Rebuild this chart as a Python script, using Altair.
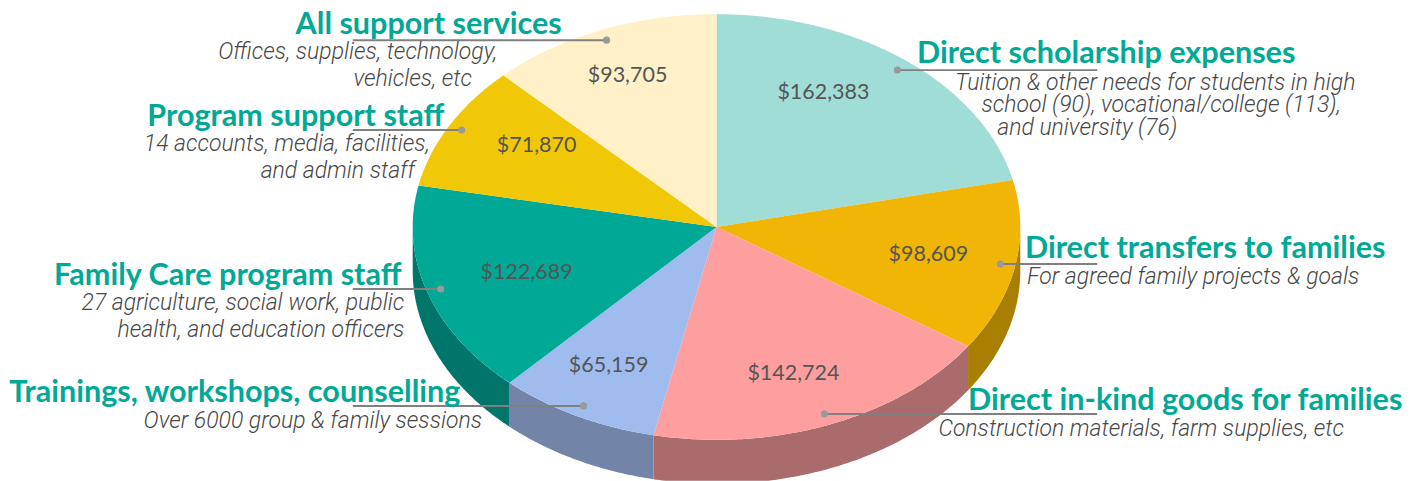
import math
import altair as alt
import pandas as pd

names = ["Direct scholarship expenses", "Direct transfers to families", "Direct in-kind goods for families",
         "Trainings, workshops, counselling", "Family Care program staff", "Program support staff", "All support services"]
values = [162383, 98609, 142724, 65159, 122689, 71870, 93705]
top_colors = ["#9FDDD6", "#F0B505", "#FF9E9E", "#A0BCEE", "#00A896", "#F0C808", "#FFF0C8"]
wall_colors = ["#6F9B96", "#A87F03", "#A96B6B", "#7285A8", "#00756A", "#A88C06", "#B3A88C"]

# layout of the picture, in page pixels
W, H = 1397, 473
CX, CY, RX, RY, DEPTH = 716, 227, 304, 213, 44
HEAD_SIZE, SUB_SIZE, VAL_SIZE = 30.6, 23, 21.5

def ux(px): return (px - CX) / RX
def uy(py): return (CY - py) / RY

# heading text, centre x, centre y
headings = [
    ("All support services", 428, 25), ("Program support staff", 295, 117),
    ("Family Care program staff", 227, 276), ("Trainings, workshops, counselling", 234, 393),
    ("Direct in-kind goods for families", 1185, 401), ("Direct transfers to families", 1205, 249),
    ("Direct scholarship expenses", 1106, 54),
]
subs = [
    ("Offices, supplies, technology,", 357, 52), ("vehicles, etc", 412, 79),
    ("14 accounts, media, facilities,", 286, 144), ("and admin staff", 337, 171),
    ("27 agriculture, social work, public", 242, 303), ("health, and education officers", 260, 330),
    ("Over 6000 group & family sessions", 312, 421),
    ("Construction materials, farm supplies, etc", 1141, 429),
    ("For agreed family projects & goals", 1193, 277),
    ("Tuition & other needs for students in high", 1155, 83),
    ("school (90), vocational/college (113),", 1161, 105),
    ("and university (76)", 1087, 128),
]
value_pos = [(823, 93), (928, 255), (793, 374), (608, 366), (526, 273), (536, 146), (627, 76)]
# dot x, dot y, line end x
leaders = [(897, 70, 1097), (1000, 264, 1097), (824, 414, 1097), (583, 406, 352),
           (440, 289, 352), (461, 130, 352), (606, 40, 352)]

total = sum(values)
wedges, walls = [], []
acc = 0
for i, v in enumerate(values):
    a0 = acc / total * 2 * math.pi
    acc += v
    a1 = acc / total * 2 * math.pi
    n = max(2, int((a1 - a0) / 0.01))
    pts = [a0 + (a1 - a0) * k / n for k in range(n + 1)]
    wedges.append({"name": names[i], "o": 0, "u": 0.0, "v": 0.0})
    for k, a in enumerate(pts):
        wedges.append({"name": names[i], "o": k + 1, "u": math.sin(a), "v": math.cos(a)})
    wedges.append({"name": names[i], "o": n + 2, "u": 0.0, "v": 0.0})
    lo, hi = max(a0, math.pi / 2), min(a1, 3 * math.pi / 2)
    if hi > lo:
        m = max(2, int((hi - lo) / 0.01))
        arc = [lo + (hi - lo) * k / m for k in range(m + 1)]
        o = 0
        for a in arc:
            walls.append({"name": names[i], "o": o, "u": math.sin(a), "v": math.cos(a)})
            o += 1
        for a in reversed(arc):
            walls.append({"name": names[i], "o": o, "u": math.sin(a), "v": math.cos(a) - DEPTH / RY})
            o += 1

xs = alt.Scale(domain=[ux(8), ux(8 + W)], nice=False, zero=False)
ys = alt.Scale(domain=[uy(8 + H), uy(8)], nice=False, zero=False, clamp=True)
X = lambda f: alt.X(f, type="quantitative", scale=xs, axis=None)
Y = lambda f: alt.Y(f, type="quantitative", scale=ys, axis=None)

wall_layer = alt.Chart(pd.DataFrame(walls)).mark_line(filled=True, strokeWidth=0).encode(
    x=X("u"), y=Y("v"), order=alt.Order("o:Q"),
    color=alt.Color("name:N", scale=alt.Scale(domain=names, range=wall_colors), legend=None),
)
top_layer = alt.Chart(pd.DataFrame(wedges)).mark_line(filled=True, strokeWidth=0).encode(
    x=X("u"), y=Y("v"), order=alt.Order("o:Q"),
    color=alt.Color("name:N", scale=alt.Scale(domain=names, range=top_colors), legend=None),
)

lead_df = pd.DataFrame([{"u": ux(a), "u2": ux(c), "v": uy(b)} for a, b, c in leaders])
rule_layer = alt.Chart(lead_df).mark_rule(color="#808080", strokeWidth=2).encode(
    x=X("u"), x2=alt.X2("u2"), y=Y("v"))
dot_layer = alt.Chart(lead_df).mark_point(filled=True, color="#999999", size=50, opacity=1).encode(
    x=X("u"), y=Y("v"))

def text_layer(rows, **kw):
    df = pd.DataFrame([{"t": t, "u": ux(a), "v": uy(b)} for t, a, b in rows])
    return alt.Chart(df).mark_text(align="center", baseline="middle", **kw).encode(
        x=X("u"), y=Y("v"), text="t:N")

val_rows = [("$" + format(v, ","), p[0], p[1]) for v, p in zip(values, value_pos)]

chart = alt.layer(
    wall_layer, top_layer, rule_layer, dot_layer,
    text_layer(val_rows, font="Lato", fontSize=VAL_SIZE, color="#555555"),
    text_layer(headings, font="Lato", fontSize=HEAD_SIZE, fontWeight=700, color="#00A896"),
    text_layer(subs, font="Roboto", fontSize=SUB_SIZE, fontStyle="italic", fontWeight=300, color="#484848"),
).resolve_scale(color="independent").properties(
    width=W, height=H, padding=0, background="white",
).configure_view(strokeWidth=0)

chart.save("out.html", embed_options={"renderer": "svg", "actions": False})
